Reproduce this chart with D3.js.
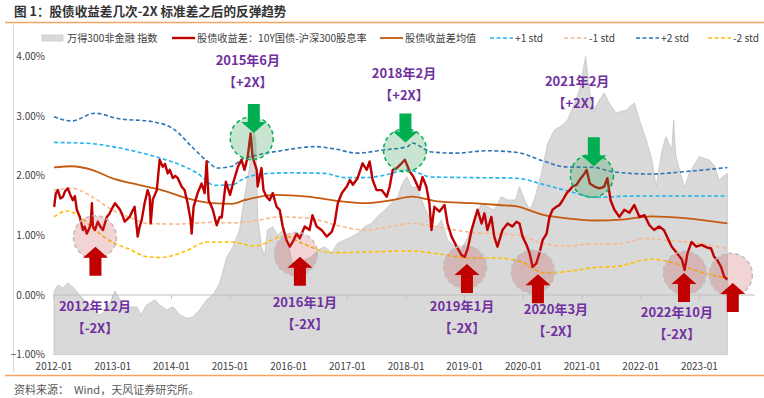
<!DOCTYPE html>
<html>
<head>
<meta charset="utf-8">
<script src="https://cdn.jsdelivr.net/npm/d3@7"></script>
<style>
  body { margin: 0; background: #fff; }
  svg { font-family: "Noto Sans CJK SC", "Noto Sans", sans-serif; }
</style>
</head>
<body>
<div id="chart"></div>
<script>
// 万得300非金融指数（隐藏右轴）
const indexSeries = [
  ["2012-01-01",2050],["2012-01-25",2168],["2012-02-26",2118],["2012-03-27",2201],["2012-04-27",2134],
  ["2012-06-10",2000],["2012-07-23",1866],["2012-08-30",1748],["2012-10-13",1664],["2012-11-25",1748],
  ["2013-01-15",2067],["2013-02-15",1916],["2013-03-29",1799],["2013-06-01",1800],["2013-06-25",1664],
  ["2013-07-30",1832],["2013-09-20",1916],["2013-10-20",1832],["2013-12-04",1748],["2014-01-10",1804],
  ["2014-02-24",1664],["2014-04-06",1609],["2014-05-13",1631],["2014-06-25",1748],["2014-08-08",1916],
  ["2014-09-16",2000],["2014-10-29",2201],["2014-12-12",2638],["2015-01-19",2806],["2015-03-01",3091],
  ["2015-04-01",3645],["2015-05-03",4148],["2015-05-28",4769],["2015-06-10",4600],["2015-06-22",3314],
  ["2015-07-16",2811],["2015-08-04",2643],["2015-08-22",3091],["2015-09-24",3146],["2015-10-24",2998],
  ["2015-11-25",3091],["2015-12-25",2873],["2016-01-20",2587],["2016-02-07",2420],["2016-03-10",2537],
  ["2016-04-10",2587],["2016-05-22",2643],["2016-07-01",2755],["2016-08-12",2811],["2016-09-25",2705],
  ["2016-11-02",2873],["2016-12-15",2923],["2017-01-28",2978],["2017-03-05",3035],["2017-04-18",3146],
  ["2017-06-01",3203],["2017-07-07",3314],["2017-08-21",3426],["2017-10-03",3539],["2017-11-10",3650],
  ["2017-12-10",3874],["2018-01-06",3985],["2018-02-06",3800],["2018-03-07",3817],["2018-04-25",3482],
  ["2018-06-26",3091],["2018-08-10",3259],["2018-09-16",2923],["2018-11-01",2811],["2018-12-12",2755],
  ["2019-01-20",2978],["2019-03-03",3259],["2019-04-16",3539],["2019-05-22",3480],["2019-07-04",3426],
  ["2019-08-18",3650],["2019-09-25",3594],["2019-11-13",3594],["2019-12-08",3817],["2020-01-09",3594],
  ["2020-02-09",3426],["2020-03-10",3594],["2020-04-23",4042],["2020-06-01",4545],["2020-07-13",4769],
  ["2020-08-25",4836],["2020-10-03",4937],["2020-11-14",5217],["2020-12-16",5440],["2021-01-23",6000],
  ["2021-02-11",5557],["2021-03-06",5054],["2021-04-19",5272],["2021-05-19",5390],["2021-06-17",5222],
  ["2021-07-30",5054],["2021-10-04",5104],["2021-11-22",5222],["2021-12-24",4937],["2022-02-04",4601],
  ["2022-03-12",4266],["2022-04-07",3817],["2022-05-14",4433],["2022-06-07",4656],["2022-07-13",4433],
  ["2022-07-25",4937],["2022-08-06",4350],["2022-08-25",4153],["2022-10-01",3796],["2022-10-31",4042],
  ["2022-12-31",4321],["2023-03-02",4266],["2023-04-03",4180],["2023-05-03",3930],["2023-06-24",4042]
];

// 股债收益差：10Y国债-沪深300股息率 (%)
const spread = [
  ["2012-01-02",1.48],["2012-01-12",1.70],["2012-01-25",1.76],["2012-02-10",1.62],["2012-02-26",1.65],
  ["2012-03-10",1.74],["2012-03-27",1.79],["2012-04-12",1.68],["2012-04-27",1.59],["2012-05-10",1.66],
  ["2012-05-22",1.43],["2012-06-10",1.31],["2012-06-29",1.09],["2012-07-10",1.15],["2012-07-23",1.03],
  ["2012-08-08",1.12],["2012-08-17",1.20],["2012-08-24",1.54],["2012-08-30",1.15],["2012-09-12",1.09],
  ["2012-09-30",1.23],["2012-10-15",1.15],["2012-11-01",1.09],["2012-11-25",1.31],["2012-12-10",1.36],
  ["2012-12-27",1.45],["2013-01-15",1.54],["2013-02-15",1.43],["2013-03-01",1.35],["2013-03-16",1.23],
  ["2013-04-16",1.31],["2013-05-01",1.40],["2013-05-17",1.48],["2013-06-05",0.98],["2013-06-15",1.12],
  ["2013-06-30",1.26],["2013-07-18",1.54],["2013-08-06",1.76],["2013-08-19",1.65],["2013-08-25",1.20],
  ["2013-09-07",1.60],["2013-10-02",1.76],["2013-10-20",2.27],["2013-11-08",2.15],["2013-11-22",2.20],
  ["2013-12-09",2.04],["2013-12-22",2.10],["2014-01-10",1.96],["2014-01-25",2.00],["2014-02-10",1.96],
  ["2014-03-05",1.82],["2014-03-24",1.76],["2014-04-12",1.54],["2014-05-01",1.25],["2014-05-07",1.03],
  ["2014-05-19",1.48],["2014-06-13",1.71],["2014-07-08",1.87],["2014-07-27",1.71],["2014-08-08",2.24],
  ["2014-08-21",1.59],["2014-09-16",1.43],["2014-10-10",1.17],["2014-10-29",1.31],["2014-11-10",1.30],
  ["2014-12-06",1.90],["2015-01-01",1.68],["2015-01-19",1.87],["2015-02-19",2.15],["2015-03-13",2.27],
  ["2015-04-01",2.10],["2015-04-21",2.32],["2015-05-09",2.71],["2015-05-21",2.32],["2015-06-16",2.10],
  ["2015-06-22",1.82],["2015-07-16",2.13],["2015-07-28",1.76],["2015-08-16",1.65],["2015-09-05",1.59],
  ["2015-09-24",1.71],["2015-10-18",1.48],["2015-11-06",1.43],["2015-11-25",1.15],["2015-12-19",0.92],
  ["2016-01-08",0.81],["2016-01-26",0.89],["2016-02-20",1.03],["2016-03-10",0.95],["2016-04-10",1.15],
  ["2016-05-10",1.09],["2016-05-28",1.34],["2016-06-23",1.15],["2016-07-24",1.09],["2016-08-25",0.98],
  ["2016-09-25",1.06],["2016-10-13",1.20],["2016-11-02",1.54],["2016-11-27",1.71],["2016-12-28",1.82],
  ["2017-01-16",1.93],["2017-02-04",1.85],["2017-03-05",1.96],["2017-04-05",2.21],["2017-05-01",2.10],
  ["2017-05-19",2.24],["2017-06-07",1.93],["2017-07-01",1.76],["2017-08-02",1.76],["2017-09-03",1.65],
  ["2017-09-21",1.82],["2017-10-10",2.10],["2017-11-04",2.13],["2017-12-04",2.21],["2017-12-24",2.27],
  ["2018-01-24",2.07],["2018-02-12",2.00],["2018-02-25",1.93],["2018-03-25",1.76],["2018-04-13",1.98],
  ["2018-05-07",1.82],["2018-05-26",1.54],["2018-06-08",1.09],["2018-06-26",1.48],["2018-07-28",1.40],
  ["2018-08-28",1.51],["2018-09-16",1.20],["2018-10-11",0.98],["2018-11-12",0.81],["2018-12-12",0.67],
  ["2019-01-01",0.64],["2019-01-20",0.78],["2019-02-13",1.09],["2019-03-03",1.26],["2019-03-22",1.43],
  ["2019-04-16",1.20],["2019-05-04",1.37],["2019-05-22",1.09],["2019-06-16",1.31],["2019-07-04",0.98],
  ["2019-07-24",0.81],["2019-08-24",1.09],["2019-09-25",1.20],["2019-10-25",1.15],["2019-11-19",1.23],
  ["2019-12-08",1.20],["2019-12-27",0.98],["2020-01-21",0.84],["2020-02-09",0.70],["2020-02-28",0.47],
  ["2020-03-22",0.53],["2020-04-10",0.70],["2020-04-30",0.92],["2020-05-25",1.03],["2020-06-12",1.31],
  ["2020-07-01",1.43],["2020-07-25",1.48],["2020-08-13",1.51],["2020-09-02",1.59],["2020-09-27",1.71],
  ["2020-10-15",1.76],["2020-11-03",1.82],["2020-11-28",1.85],["2020-12-16",1.93],["2021-01-16",2.04],
  ["2021-01-29",2.10],["2021-02-18",1.87],["2021-03-19",1.82],["2021-04-19",1.79],["2021-05-19",1.82],
  ["2021-06-07",1.96],["2021-06-27",1.59],["2021-07-21",1.43],["2021-08-21",1.31],["2021-09-21",1.43],
  ["2021-10-22",1.38],["2021-11-22",1.51],["2021-12-24",1.31],["2022-01-24",1.34],["2022-02-24",1.17],
  ["2022-03-25",1.09],["2022-04-25",1.15],["2022-05-25",1.09],["2022-06-13",0.98],["2022-07-13",0.81],
  ["2022-08-15",0.70],["2022-09-15",0.59],["2022-10-01",0.42],["2022-10-19",0.70],["2022-11-13",0.89],
  ["2022-12-13",0.81],["2023-01-15",0.84],["2023-02-15",0.80],["2023-03-15",0.78],["2023-04-03",0.64],
  ["2023-04-22",0.59],["2023-05-16",0.47],["2023-06-04",0.31],["2023-06-24",0.26]
];

// 均值与标准差带 (%)
const meanLine = [
  ["2012-01-01",2.14],["2012-04-20",2.16],["2012-08-24",2.10],["2012-12-27",1.96],["2013-06-05",1.85],
  ["2013-11-02",1.76],["2014-04-12",1.62],["2014-09-09",1.54],["2015-01-13",1.53],["2015-04-01",1.59],
  ["2015-10-06",1.68],["2016-04-28",1.65],["2016-11-27",1.57],["2017-04-18",1.54],["2017-10-03",1.59],
  ["2018-02-06",1.65],["2018-07-16",1.57],["2019-02-13",1.54],["2019-08-06",1.51],["2019-11-13",1.49],
  ["2020-05-12",1.34],["2020-09-15",1.29],["2021-03-19",1.25],["2021-09-21",1.27],["2022-03-07",1.32],
  ["2022-10-01",1.29],["2023-06-24",1.20]
];
const plus1Std = [
  ["2012-01-01",2.56],["2012-08-24",2.54],["2012-12-27",2.49],["2013-06-05",2.40],["2013-11-02",2.29],
  ["2014-02-10",2.20],["2014-06-13",2.04],["2014-09-28",1.84],["2015-01-13",1.85],["2015-04-01",1.96],
  ["2015-07-16",2.03],["2016-01-20",2.05],["2016-08-12",2.04],["2016-12-15",1.97],["2017-04-18",1.97],
  ["2017-08-21",2.01],["2018-01-12",2.10],["2018-06-08",1.98],["2019-02-13",1.97],["2019-11-13",1.96],
  ["2020-05-12",1.85],["2020-10-27",1.73],["2021-03-19",1.64],["2021-11-22",1.66],["2022-10-01",1.66],
  ["2023-06-24",1.66]
];
const minus1Std = [
  ["2012-01-01",1.76],["2012-04-20",1.79],["2012-08-24",1.65],["2012-12-27",1.43],["2013-04-28",1.29],
  ["2013-08-06",1.20],["2014-02-10",1.19],["2014-09-09",1.22],["2015-01-13",1.21],["2015-06-22",1.25],
  ["2015-10-24",1.31],["2016-04-28",1.29],["2016-11-27",1.15],["2017-04-18",1.09],["2017-10-03",1.15],
  ["2018-02-06",1.20],["2018-07-16",1.14],["2019-02-13",1.05],["2019-11-13",1.01],["2020-05-12",0.86],
  ["2020-09-15",0.82],["2021-03-19",0.86],["2021-08-09",0.86],["2022-02-12",0.95],["2022-06-13",0.92],
  ["2023-01-15",0.86],["2023-06-24",0.78]
];
const plus2Std = [
  ["2012-01-01",2.99],["2012-04-20",2.92],["2012-09-12",3.05],["2013-02-03",2.96],["2013-09-01",2.91],
  ["2014-01-22",2.77],["2014-05-07",2.49],["2014-08-15",2.24],["2014-10-16",2.13],["2015-01-13",2.16],
  ["2015-03-13",2.27],["2015-06-22",2.35],["2015-12-07",2.43],["2016-06-12",2.49],["2016-10-13",2.45],
  ["2017-03-05",2.38],["2017-08-02",2.43],["2018-01-12",2.49],["2018-02-06",2.55],["2018-06-08",2.40],
  ["2018-11-01",2.38],["2019-05-22",2.42],["2019-11-26",2.39],["2020-05-12",2.24],["2020-09-15",2.15],
  ["2021-03-19",2.14],["2021-07-03",2.07],["2022-03-07",2.03],["2022-10-01",2.07],["2023-02-03",2.10],
  ["2023-06-24",2.14]
];
const minus2Std = [
  ["2012-01-01",1.31],["2012-03-20",1.41],["2012-05-28",1.34],["2012-09-12",1.09],["2012-12-27",0.89],
  ["2013-04-04",0.78],["2013-08-06",0.64],["2013-11-02",0.63],["2014-03-24",0.73],["2014-08-15",0.89],
  ["2015-01-13",0.89],["2015-06-03",0.82],["2015-12-07",0.99],["2016-03-22",0.87],["2016-09-25",0.71],
  ["2017-04-18",0.72],["2018-02-06",0.74],["2018-07-16",0.69],["2019-02-13",0.62],["2019-07-24",0.62],
  ["2019-12-24",0.55],["2020-05-12",0.37],["2020-09-15",0.39],["2021-03-19",0.46],["2021-08-09",0.48],
  ["2022-03-07",0.60],["2022-07-07",0.55],["2022-11-30",0.42],["2023-06-24",0.27]
];

const yTicks = [-1, 0, 1, 2, 3, 4];
const xTickYears = ["2012-01","2013-01","2014-01","2015-01","2016-01","2017-01",
                    "2018-01","2019-01","2020-01","2021-01","2022-01","2023-01"];

// 信号：+2X 之后回落 / -2X 之后反弹
const signals = [
  { title: "2015年6月",  tag: "【+2X】", dir: "down", date: "2015-05-16", value: 2.63, tipDate: "2015-05-29", tipValue: 2.72, labelDate: "2015-04-22", labelValue: 3.93 },
  { title: "2018年2月",  tag: "【+2X】", dir: "down", date: "2017-12-25", value: 2.43, tipDate: "2017-12-28", tipValue: 2.56, labelDate: "2017-12-19", labelValue: 3.72 },
  { title: "2021年2月",  tag: "【+2X】", dir: "down", date: "2021-03-03", value: 2.00, tipDate: "2021-03-15", tipValue: 2.16, labelDate: "2020-12-01", labelValue: 3.58 },
  { title: "2012年12月", tag: "【-2X】", dir: "up", date: "2012-09-12", value: 0.97, tipDate: "2012-09-15", tipValue: 0.81, labelDate: "2012-09-12", labelValue: -0.20 },
  { title: "2016年1月",  tag: "【-2X】", dir: "up", date: "2016-02-15", value: 0.69, tipDate: "2016-03-11", tipValue: 0.64, labelDate: "2016-04-11", labelValue: -0.13 },
  { title: "2019年1月",  tag: "【-2X】", dir: "up", date: "2019-01-03", value: 0.47, tipDate: "2019-01-15", tipValue: 0.52, labelDate: "2018-12-15", labelValue: -0.20 },
  { title: "2020年3月",  tag: "【-2X】", dir: "up", date: "2020-03-01", value: 0.39, tipDate: "2020-04-01", tipValue: 0.35, labelDate: "2020-07-22", labelValue: -0.25 },
  { title: "2022年10月", tag: "【-2X】", dir: "up", date: "2022-10-03", value: 0.37, tipDate: "2022-09-27", tipValue: 0.37, labelDate: "2022-08-14", labelValue: -0.29 },
  { title: "",           tag: "",       dir: "up", date: "2023-07-16", value: 0.34, tipDate: "2023-07-28", tipValue: 0.20, labelDate: null, labelValue: null }
];

const parse = d3.timeParse("%Y-%m-%d");
const width = 764, height = 398;

const svg = d3.select("#chart").append("svg")
  .attr("width", width)
  .attr("height", height);

const x = d3.scaleTime()
  .domain([parse("2012-01-01"), parse("2024-01-01")])
  .range([54, 758]);
const y = d3.scaleLinear().domain([-1, 4]).range([354.6, 56.6]);
const yIndex = d3.scaleLinear().domain([1000, 6000]).range([354.6, 56.6]);

// 标题与框线
svg.append("text")
  .attr("x", 14).attr("y", 16)
  .attr("font-size", 12.6).attr("font-weight", "bold").attr("fill", "#333")
  .text("图 1：股债收益差几次-2X 标准差之后的反弹趋势");

svg.append("line").attr("x1", 5).attr("x2", 764).attr("y1", 22.5).attr("y2", 22.5)
  .attr("stroke", "#F4A460").attr("stroke-width", 1.5);
svg.append("line").attr("x1", 5).attr("x2", 764).attr("y1", 375.5).attr("y2", 375.5)
  .attr("stroke", "#F4A460").attr("stroke-width", 1.5);
svg.append("line").attr("x1", 13.5).attr("x2", 13.5).attr("y1", 25).attr("y2", 372)
  .attr("stroke", "#D9D9D9");

svg.append("text")
  .attr("x", 14).attr("y", 394)
  .attr("font-size", 11).attr("fill", "#595959")
  .attr("xml:space", "preserve")
  .text("资料来源：  Wind，天风证券研究所。");

// 指数面积
const indexData = indexSeries.map(d => ({ date: parse(d[0]), v: d[1] }));
svg.append("path")
  .datum(indexData)
  .attr("fill", "#D9D9D9")
  .attr("stroke", "#C3C3C3")
  .attr("stroke-width", 0.8)
  .attr("d", d3.area()
    .x(d => x(d.date))
    .y0(y(-1))
    .y1(d => yIndex(d.v)));

// 0 轴
svg.append("line")
  .attr("x1", x.range()[0]).attr("x2", 755)
  .attr("y1", y(0)).attr("y2", y(0))
  .attr("stroke", "#BFBFBF");
svg.append("g").selectAll("line")
  .data(xTickYears)
  .join("line")
  .attr("x1", d => x(parse(d + "-01"))).attr("x2", d => x(parse(d + "-01")))
  .attr("y1", y(0)).attr("y2", y(0) + 4)
  .attr("stroke", "#BFBFBF");

// 坐标轴标签
svg.append("g").selectAll("text")
  .data(yTicks)
  .join("text")
  .attr("x", 45).attr("y", d => y(d))
  .attr("dy", "0.35em")
  .attr("text-anchor", "end")
  .attr("font-size", 10).attr("fill", "#404040")
  .text(d => d3.format(".2f")(d) + "%");

svg.append("g").selectAll("text")
  .data(xTickYears)
  .join("text")
  .attr("x", d => x(parse(d + "-01"))).attr("y", 370)
  .attr("text-anchor", "middle")
  .attr("font-size", 10).attr("fill", "#404040")
  .text(d => d);

// 线条
const toPts = arr => arr.map(d => ({ date: parse(d[0]), v: d[1] }));
const smooth = d3.line().x(d => x(d.date)).y(d => y(d.v)).curve(d3.curveMonotoneX);
const bands = [
  { data: minus2Std, color: "#FFC000", dash: "4,2.5" },
  { data: minus1Std, color: "#F8B88B", dash: "4,2.5" },
  { data: plus1Std, color: "#1FB4F0", dash: "4,2.5" },
  { data: plus2Std, color: "#2E75B6", dash: "4,2.5" }
];
bands.forEach(b => {
  svg.append("path").datum(toPts(b.data))
    .attr("fill", "none").attr("stroke", b.color)
    .attr("stroke-width", 1.6).attr("stroke-dasharray", b.dash)
    .attr("d", smooth);
});
svg.append("path").datum(toPts(meanLine))
  .attr("fill", "none").attr("stroke", "#C55A11").attr("stroke-width", 1.8)
  .attr("d", smooth);

svg.append("path").datum(toPts(spread))
  .attr("fill", "none").attr("stroke", "#C00000")
  .attr("stroke-width", 2.4).attr("stroke-linejoin", "round")
  .attr("d", d3.line().x(d => x(d.date)).y(d => y(d.v)));

// 信号标注
const upArrow = "M0,0L12.5,11L6,11L6,29L-6,29L-6,11L-12.5,11Z";
const downArrow = "M0,0L12.5,-11L6,-11L6,-29L-6,-29L-6,-11L-12.5,-11Z";
const ann = svg.append("g");
signals.forEach(s => {
  const cx = x(parse(s.date)), cy = y(s.value);
  const green = s.dir === "down";
  ann.append("circle")
    .attr("cx", cx).attr("cy", cy).attr("r", 21.5)
    .attr("fill", green ? "rgba(60,160,90,0.28)" : "rgba(200,60,60,0.22)")
    .attr("stroke", green ? "#00B050" : "#BDBDBD")
    .attr("stroke-width", 1.5)
    .attr("stroke-dasharray", "4,3");
  ann.append("path")
    .attr("transform", `translate(${x(parse(s.tipDate))},${y(s.tipValue)})`)
    .attr("d", green ? downArrow : upArrow)
    .attr("fill", green ? "#00B050" : "#C00000");
  if (s.labelDate) {
    const lx = x(parse(s.labelDate)), ly = y(s.labelValue);
    ann.append("text")
      .attr("x", lx).attr("y", ly).attr("dy", "0.35em")
      .attr("text-anchor", "middle")
      .attr("font-size", 13).attr("font-weight", "bold").attr("fill", "#7030A0")
      .text(s.title);
    ann.append("text")
      .attr("x", lx).attr("y", ly + 22).attr("dy", "0.35em")
      .attr("text-anchor", "middle")
      .attr("font-size", 13).attr("font-weight", "bold").attr("fill", "#7030A0")
      .text(s.tag);
  }
});

// 图例
const legendItems = [
  { label: "万得300非金融 指数", type: "area", color: "#D9D9D9" },
  { label: "股债收益差：10Y国债-沪深300股息率", type: "line", color: "#C00000", w: 2.4 },
  { label: "股债收益差均值", type: "line", color: "#C55A11", w: 1.8 },
  { label: "+1 std", type: "dash", color: "#1FB4F0" },
  { label: "-1 std", type: "dash", color: "#F8B88B" },
  { label: "+2 std", type: "dash", color: "#2E75B6" },
  { label: "-2 std", type: "dash", color: "#FFC000" }
];
const legendX = [42, 172, 380, 490, 564, 636, 708];
const legend = svg.append("g").attr("transform", "translate(0,38)");
legendItems.forEach((it, i) => {
  const lx = legendX[i];
  if (it.type === "area") {
    legend.append("rect").attr("x", lx).attr("y", -3).attr("width", 21).attr("height", 6)
      .attr("fill", it.color).attr("stroke", "#C3C3C3").attr("stroke-width", 0.6);
  } else {
    legend.append("line").attr("x1", lx).attr("x2", lx + 23).attr("y1", 0).attr("y2", 0)
      .attr("stroke", it.color)
      .attr("stroke-width", it.type === "dash" ? 1.6 : it.w)
      .attr("stroke-dasharray", it.type === "dash" ? "4,2.5" : null);
  }
  legend.append("text")
    .attr("x", lx + 25).attr("y", 0).attr("dy", "0.35em")
    .attr("font-size", 10.2).attr("fill", "#404040")
    .text(it.label);
});
</script>
</body>
</html>
